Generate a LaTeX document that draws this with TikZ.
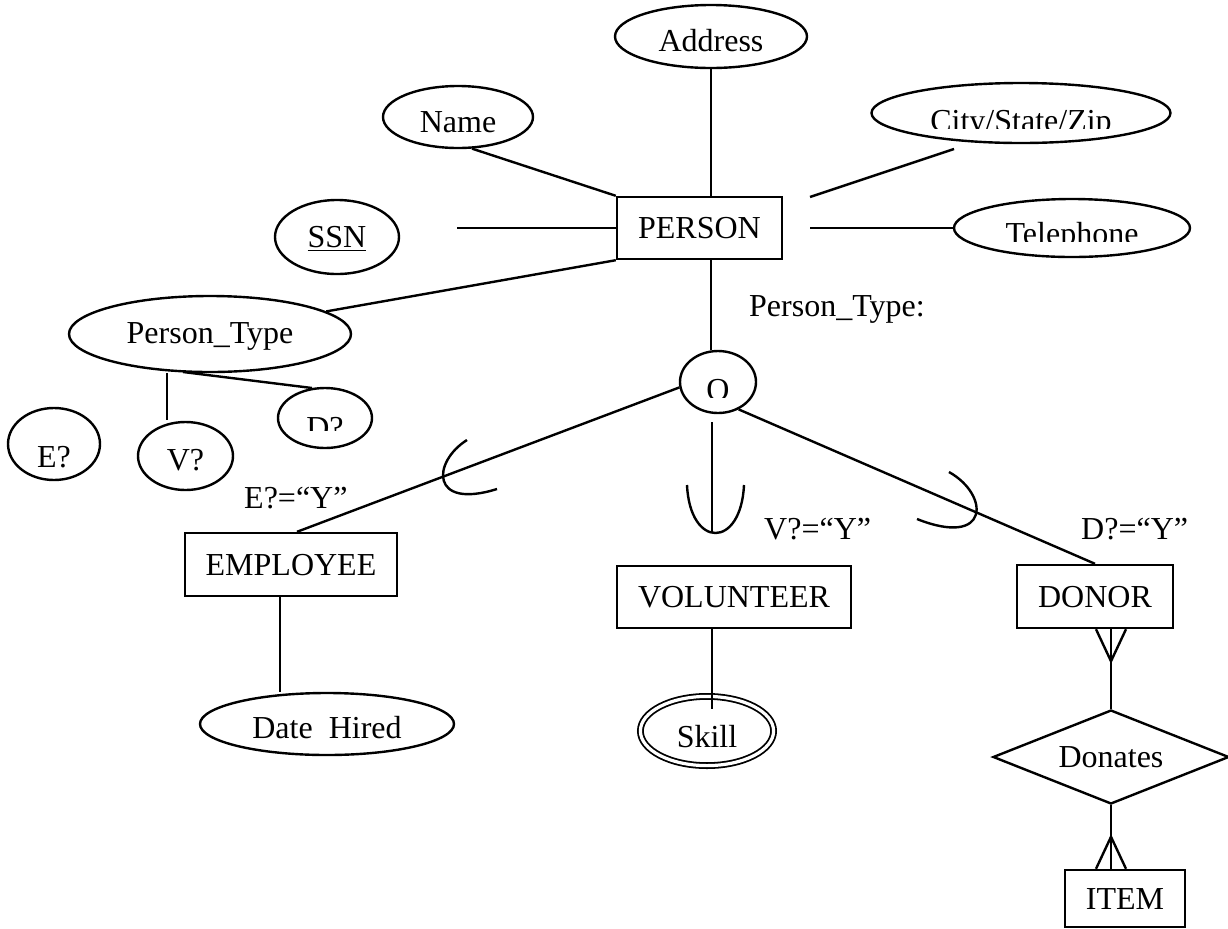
\documentclass[tikz,border=0pt]{standalone}
\usepackage{fontspec}
\setmainfont{Liberation Serif}
\usetikzlibrary{shapes.geometric,calc}
\begin{document}
\begin{tikzpicture}[x=0.5pt,y=-0.5pt,line width=1.2pt,
  every node/.style={font=\fontsize{16}{19}\selectfont,inner sep=0pt},
  bl/.style={text height=#1pt,text depth=0pt},
  ent/.style={draw,rectangle,bl=10.6},
  attr/.style={draw,ellipse},
  lbl/.style={anchor=base west},
  ctext/.style={anchor=base}]
\useasboundingbox (0,0) rectangle (1228,928);
% ---------- PERSON and its attributes ----------
\node[ent,minimum width=82.5pt,minimum height=31pt] (person) at (699.5,228) {PERSON};
\node[attr,minimum width=96pt,minimum height=31.5pt,bl=15] (addr) at (711,36.5) {Address};
\node[attr,minimum width=75pt,minimum height=31pt,bl=15] (name) at (458,117) {Name};
\node[attr,minimum width=62pt,minimum height=37pt,bl=10] (ssn) at (337,237) {\underline{SSN}};
\node[attr,minimum width=141pt,minimum height=38pt,bl=9] (ptype) at (210,334) {Person\_Type};
\node[attr,minimum width=149.5pt,minimum height=30pt] (city) at (1021,113) {};
\begin{scope}
  \clip (860,90) rectangle (1180,128);
  \node[ctext] (citytxt) at (1021,131) {City/State/Zip};
\end{scope}
\node[attr,minimum width=118pt,minimum height=29pt] (tel) at (1072,228) {};
\begin{scope}
  \clip (950,205) rectangle (1190,241);
  \node[ctext] (teltxt) at (1072,244) {Telephone};
\end{scope}
% ---------- Person_Type sub-attributes ----------
\node[attr,minimum width=46pt,minimum height=36pt,bl=23] (e) at (54,444) {E?};
\node[attr,minimum width=47.5pt,minimum height=34pt,bl=14] (v) at (185.5,456) {V?};
\node[attr,minimum width=47pt,minimum height=30pt] (d) at (325,418) {};
\begin{scope}
  \clip (290,395) rectangle (360,430);
  \node[ctext] (dtxt) at (325,438) {D?};
\end{scope}
% ---------- specialization circle ----------
\node[attr,minimum width=38pt,minimum height=31pt] (o) at (718,382) {};
\begin{scope}
  \clip (690,360) rectangle (746,397);
  \node[ctext] (otxt) at (718,400) {O};
\end{scope}
% ---------- subtypes ----------
\node[ent,minimum width=106pt,minimum height=31.5pt] (emp) at (291,564.5) {EMPLOYEE};
\node[ent,minimum width=117pt,minimum height=31pt] (vol) at (734,597) {VOLUNTEER};
\node[ent,minimum width=78pt,minimum height=31.5pt] (donor) at (1095,596.5) {DONOR};
\node[attr,minimum width=127pt,minimum height=31pt,bl=14] (date) at (327,724) {Date~ Hired};
\node[attr,double,line width=0.9pt,double distance=1.6pt,minimum width=66.6pt,minimum height=34.6pt,bl=16] (skill) at (707,731) {Skill};
\node[draw,diamond,aspect=2.6,minimum width=118pt,minimum height=47pt,bl=10.6] (don) at (1111,757) {Donates};
\node[ent,minimum width=60pt,minimum height=28.5pt] (item) at (1125,898.5) {ITEM};
% ---------- labels ----------
\node[lbl] (ptl) at (748,316) {Person\_Type:};
\node[lbl] (el) at (243,508) {E?=“Y”};
\node[lbl] (vl) at (763,539) {V?=“Y”};
\node[lbl] (dl) at (1080,539) {D?=“Y”};
% ---------- free line ends ----------
\coordinate (c1) at (810,197);
\coordinate (c2) at (954,149);
\coordinate (t1) at (810,228);
\coordinate (s1) at (457,228);
\coordinate (p1) at (167,373);
\coordinate (p2) at (167,420);
\coordinate (p3) at (183,372);
\coordinate (p4) at (312,388);
\coordinate (v1) at (712,422);
\coordinate (v2) at (712,533);
% ---------- connectors ----------
\draw (addr.south) -- (addr.south |- person.north);
\draw (name.-66) -- (person.north west);
\draw (c1) -- (c2);
\draw (t1) -- (tel.west);
\draw (s1) -- (person.west);
\draw (person.south west) -- (ptype.11);
\draw (p1) -- (p2);
\draw (p3) -- (p4);
\draw (person.south -| addr) -- (o.north -| addr);
\draw (o.188) -- ([xshift=3pt]emp.north);
\draw (v1) -- (v2);
\draw (o.-53) -- (donor.north);
\draw ([xshift=-5.5pt]emp.south) -- ([xshift=-5.5pt]emp.south |- date.north);
\draw (vol.south -| v1) -- ($(vol.south -| v1)+(0,80)$);
% subset symbols
\draw (467,440) .. controls (432,462) and (430,510) .. (497,489);
\draw (687,485) .. controls (690,549) and (741,549) .. (744,485);
\draw (949,472) .. controls (990,495) and (990,548) .. (917,519);
% DONOR - Donates - ITEM with crow's feet
\draw (donor.south -| don.north) -- (don.north);
\draw ($(donor.south -| don.north)+(-15,0)$) -- ($(donor.south -| don.north)+(0,32)$) -- ($(donor.south -| don.north)+(15,0)$);
\draw (don.south) -- (item.north -| don.south);
\draw ($(item.north -| don.south)+(-15,0)$) -- ($(item.north -| don.south)+(0,-32)$) -- ($(item.north -| don.south)+(15,0)$);
\end{tikzpicture}
\end{document}
